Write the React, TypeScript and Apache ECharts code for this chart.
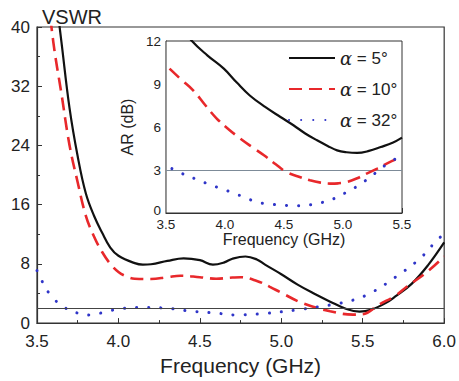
import React, { useEffect, useRef } from "react";
import * as echarts from "echarts";

// Main plot: VSWR vs frequency (GHz)
const vswr5: [number, number][] = [
  [3.6, 47], [3.65, 38], [3.7, 29], [3.75, 22.5], [3.8, 17.5], [3.85, 14.5], [3.9, 12.2],
  [3.95, 10.2], [4.0, 9.1], [4.1, 8.1], [4.15, 7.9], [4.2, 7.95], [4.3, 8.4], [4.4, 8.75],
  [4.5, 8.5], [4.58, 7.9], [4.65, 8.2], [4.7, 8.7], [4.78, 9.0], [4.85, 8.6], [4.9, 7.9],
  [5.0, 6.6], [5.1, 5.2], [5.2, 4.0], [5.3, 2.9], [5.4, 1.9], [5.48, 1.55], [5.55, 1.8],
  [5.64, 2.7], [5.7, 3.6], [5.8, 5.3], [5.9, 7.8], [6.0, 10.9],
];
const vswr10: [number, number][] = [
  [3.5, 60], [3.55, 48], [3.6, 38], [3.65, 31], [3.7, 24], [3.75, 19], [3.8, 14.5],
  [3.85, 11.7], [3.9, 9.6], [3.95, 8.0], [4.0, 6.9], [4.05, 6.3], [4.1, 6.0], [4.2, 5.95],
  [4.3, 6.2], [4.38, 6.4], [4.5, 6.2], [4.6, 6.0], [4.7, 6.15], [4.75, 6.2], [4.85, 5.7],
  [4.93, 4.9], [5.0, 4.1], [5.13, 2.7], [5.3, 1.6], [5.44, 1.15], [5.5, 1.2], [5.6, 2.5],
  [5.7, 3.7], [5.77, 4.9], [5.9, 7.0], [6.0, 9.0],
];
const vswr32: [number, number][] = [
  [3.5, 7.1], [3.54, 5.3], [3.59, 3.6], [3.67, 2.1], [3.75, 1.35], [3.83, 1.1], [3.9, 1.4],
  [4.0, 1.9], [4.15, 2.1], [4.3, 2.0], [4.45, 1.6], [4.6, 1.35], [4.72, 1.1], [4.9, 1.3],
  [5.1, 1.8], [5.3, 2.45], [5.44, 3.1], [5.56, 4.2], [5.7, 6.2], [5.85, 8.7], [5.96, 11.3],
  [6.0, 12],
];

// Inset: AR (dB) vs frequency (GHz)
const ar5: [number, number][] = [
  [3.6, 13.3], [3.72, 12], [3.85, 11.0], [3.99, 10.07], [4.1, 9.1], [4.21, 8.2], [4.34, 7.4],
  [4.47, 6.7], [4.58, 6.12], [4.68, 5.55], [4.78, 5.07], [4.87, 4.68], [4.95, 4.37],
  [5.03, 4.24], [5.12, 4.19], [5.22, 4.33], [5.32, 4.6], [5.42, 4.9], [5.5, 5.26],
];
const ar10: [number, number][] = [
  [3.53, 10.07], [3.63, 9.3], [3.73, 8.56], [3.83, 7.55], [3.93, 6.59], [4.03, 5.85],
  [4.13, 5.19], [4.23, 4.6], [4.33, 4.03], [4.43, 3.4], [4.52, 2.86], [4.62, 2.55],
  [4.72, 2.28], [4.81, 2.12], [4.89, 2.05], [4.96, 2.07], [5.03, 2.16], [5.12, 2.42],
  [5.2, 2.75], [5.29, 3.1], [5.37, 3.45], [5.45, 3.76], [5.5, 3.96],
];
const ar32: [number, number][] = [
  [3.55, 3.1], [3.65, 2.7], [3.75, 2.38], [3.85, 2.05], [3.96, 1.72], [4.07, 1.4],
  [4.17, 1.08], [4.27, 0.77], [4.38, 0.62], [4.5, 0.54], [4.6, 0.5], [4.69, 0.54],
  [4.79, 0.68], [4.89, 0.89], [4.97, 1.2], [5.06, 1.58], [5.15, 2.02], [5.23, 2.51],
  [5.3, 2.95], [5.37, 3.4], [5.45, 3.8],
];

const xTicksMain = { min: 3.5, max: 6.0, interval: 0.5 };
const yTicksMain = { min: 0, max: 40, interval: 8 };
const xTicksInset = { min: 3.5, max: 5.5, interval: 0.5 };
const yTicksInset = { min: 0, max: 12, interval: 3 };
const vswrRef = 2;
const arRef = 3;
const seriesNames = ["{a|α} = 5°", "{a|α} = 10°", "{a|α} = 32°"];

const FONT = "'Liberation Sans', Arial, sans-serif";
const AX = "#333";

const styles = [
  { color: "#111", width: 2.2, type: "solid" as any, cap: "butt" as any },
  { color: "#e8282b", width: 2.6, type: [13, 7] as any, cap: "butt" as any },
  { color: "#2f35c8", width: 3, type: [0.1, 12] as any, cap: "round" as any },
];

function axisCommon(fontSize: number) {
  return {
    axisLine: { show: true, lineStyle: { color: AX, width: 1.2 } },
    axisTick: { show: true, inside: true, length: 5, lineStyle: { color: AX } },
    minorTick: { show: true, splitNumber: 2, length: 3, lineStyle: { color: AX } },
    splitLine: { show: false },
    axisLabel: { color: "#222", fontSize, fontFamily: FONT },
  };
}

export default function App() {
  const ref = useRef<HTMLDivElement>(null);
  useEffect(() => {
    if (!ref.current) return;
    const chart = echarts.init(ref.current, undefined, { renderer: "svg" });
    const mk = (name: string, data: [number, number][], i: number, idx: number, ref: number | null) => ({
      type: "line",
      name,
      data,
      xAxisIndex: idx,
      yAxisIndex: idx,
      smooth: 0.4,
      symbol: "none",
      showSymbol: false,
      clip: true,
      z: idx === 0 ? 3 : 6,
      lineStyle: styles[i],
      itemStyle: { color: styles[i].color },
      markLine: ref === null ? undefined : {
        silent: true,
        symbol: "none",
        label: { show: false },
        lineStyle: { color: idx === 0 ? "#444" : "#7d8b98", width: 1.2, type: "solid" },
        data: [{ yAxis: ref }],
      },
    });
    chart.setOption({
      animation: false,
      backgroundColor: "#fff",
      title: {
        text: "VSWR",
        left: 37,
        top: 2,
        textStyle: { fontSize: 20, fontWeight: "normal", color: "#222", fontFamily: FONT },
      },
      grid: [
        { left: 37, top: 27, width: 408, height: 300, show: true, borderColor: AX, borderWidth: 1.2, backgroundColor: "#fff" },
        { left: 166, top: 41, width: 236, height: 172, show: true, borderColor: AX, borderWidth: 1, backgroundColor: "#fff", z: 5 },
      ],
      legend: {
        orient: "vertical",
        left: 283,
        top: 44,
        itemWidth: 46,
        itemHeight: 14,
        itemGap: 13,
        z: 10,
        data: seriesNames,
        itemStyle: { opacity: 0, borderWidth: 0 },
        textStyle: {
          fontSize: 17,
          color: "#222",
          fontFamily: FONT,
          rich: { a: { fontStyle: "italic", fontSize: 18, fontFamily: "'DejaVu Serif', serif", color: "#222" } },
        },
      },
      xAxis: [
        {
          type: "value", gridIndex: 0, ...xTicksMain,
          ...axisCommon(17),
          axisLabel: { color: "#222", fontSize: 17, fontFamily: FONT, margin: 10, formatter: (v: number) => v.toFixed(1) },
          name: "Frequency (GHz)", nameLocation: "middle", nameGap: 22,
          nameTextStyle: { fontSize: 21, color: "#222", fontFamily: FONT },
        },
        {
          type: "value", gridIndex: 1, ...xTicksInset,
          ...axisCommon(13),
          axisLabel: { color: "#222", fontSize: 13.5, fontFamily: FONT, margin: 4, formatter: (v: number) => v.toFixed(1) },
          name: "Frequency (GHz)", nameLocation: "middle", nameGap: 14,
          nameTextStyle: { fontSize: 16, color: "#222", fontFamily: FONT },
        },
      ],
      yAxis: [
        {
          type: "value", gridIndex: 0, ...yTicksMain,
          ...axisCommon(17),
          axisLabel: { color: "#222", fontSize: 17, fontFamily: FONT, margin: 7 },
        },
        {
          type: "value", gridIndex: 1, ...yTicksInset,
          ...axisCommon(13),
          axisLabel: {
            color: "#222", fontSize: 13.5, fontFamily: FONT, margin: 5,
            formatter: (v: number) => (v === 0 ? "{z|0}" : String(v)),
            rich: { z: { fontSize: 13.5, fontFamily: FONT, color: "#222", padding: [0, 0, 6, 0] } },
          },
          name: "AR (dB)", nameLocation: "middle", nameGap: 22, nameRotate: 90,
          nameTextStyle: { fontSize: 16, color: "#222", fontFamily: FONT },
        },
      ],
      series: [
        mk(seriesNames[0], vswr5, 0, 0, vswrRef),
        mk(seriesNames[1], vswr10, 1, 0, null),
        mk(seriesNames[2], vswr32, 2, 0, null),
        mk(seriesNames[0], ar5, 0, 1, arRef),
        mk(seriesNames[1], ar10, 1, 1, null),
        mk(seriesNames[2], ar32, 2, 1, null),
      ],
    });
    return () => chart.dispose();
  }, []);
  return <div ref={ref} style={{ width: 459, height: 381, position: "absolute", left: 0, top: 0 }} />;
}
